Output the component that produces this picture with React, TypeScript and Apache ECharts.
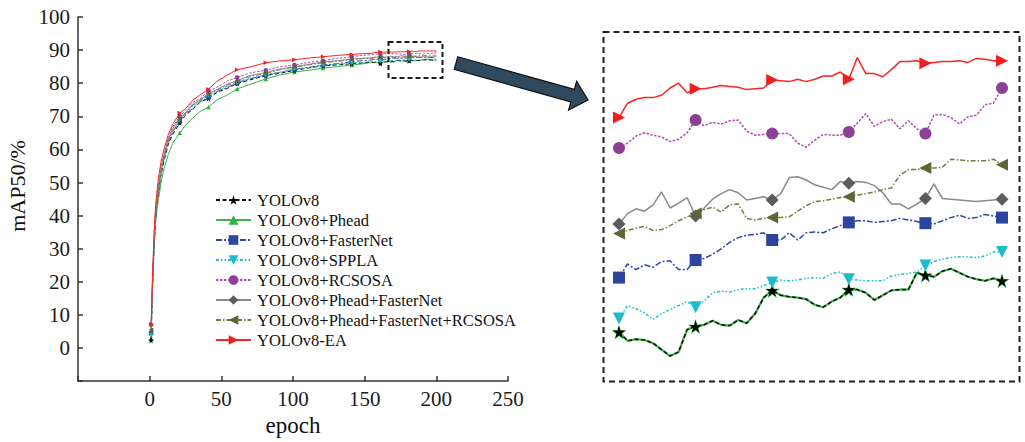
import React, { useEffect, useRef } from "react";
import * as echarts from "echarts";

const seriesNames = [
  "YOLOv8",
  "YOLOv8+Phead",
  "YOLOv8+FasterNet",
  "YOLOv8+SPPLA",
  "YOLOv8+RCSOSA",
  "YOLOv8+Phead+FasterNet",
  "YOLOv8+Phead+FasterNet+RCSOSA",
  "YOLOv8-EA",
];

const xTicks = [-50, 0, 50, 100, 150, 200, 250];
const yTicks = [-10, 0, 10, 20, 30, 40, 50, 60, 70, 80, 90, 100];

// epochs of the early, coarsely read part of the curves
const earlyEpochs = [1, 2, 3, 4, 5, 6, 8, 10, 13, 16, 21, 25, 30, 35, 41, 47, 54, 61, 70, 81, 90, 101, 111, 121, 131, 141, 148];
// epochs shown in the magnified panel
const tailEpochs = [155, 156, 157, 158, 159, 160, 161, 162, 163, 164, 165, 166, 167, 168, 169, 170, 171, 172, 173, 174, 175, 176, 177, 178, 179, 180, 181, 182, 183, 184, 185, 186, 187, 188, 189, 190, 191, 192, 193, 194, 195, 196, 197, 198, 199, 200];
const markerEpochs = [1, 21, 41, 61, 81, 101, 121, 141, 161, 181];

const yolov8Early = [2.3, 19, 30, 38.5, 43.5, 46.5, 52.5, 56.5, 61.5, 64.5, 68, 70.3, 72.1, 74.2, 75.4, 77.2, 78.4, 79.9, 81.0, 82.3, 82.9, 83.9, 84.6, 85.3, 85.5, 85.9, 86.1];
const pheadEarly = [3, 18, 29, 37, 41.5, 44.5, 50, 54.2, 58.5, 61.8, 65, 67.3, 69.4, 71.4, 72.8, 75, 76.4, 78.3, 79.6, 81.3, 82.4, 83.4, 83.9, 84.6, 85.0, 85.5, 85.8];
const fasterEarly = [4.5, 19.5, 30.5, 39, 44, 47.2, 53, 57.2, 62, 65.3, 68.5, 70.7, 72.4, 74.3, 75.7, 77.5, 78.7, 80.1, 81.3, 82.6, 83.2, 84.2, 84.8, 85.5, 85.9, 86.5, 86.8];
const spplaEarly = [4, 19.5, 31, 39.5, 44.5, 47.6, 53.5, 57.4, 62.6, 65.4, 69.2, 70.8, 73.1, 74.4, 76.3, 77.5, 79.1, 80.2, 81.6, 82.4, 83.3, 84.2, 84.7, 85.4, 85.7, 86.1, 86.3];
const rcsosaEarly = [7, 21, 33, 41, 46, 49.3, 55, 59.2, 63.5, 66.8, 70, 71.8, 74.2, 75.3, 77.6, 78.8, 80.6, 81.7, 83.1, 83.9, 84.9, 85.5, 86.3, 86.8, 87.5, 88.0, 88.4];
const pheadFasterEarly = [5, 20, 31.5, 40, 45, 48.2, 54, 58.3, 63, 66.2, 69.6, 71.1, 73.6, 74.9, 76.9, 78.1, 79.7, 80.8, 82.3, 83.2, 84.2, 85.0, 85.7, 86.4, 86.8, 87.3, 87.5];
const pheadFasterRcsosaEarly = [5.5, 20, 31, 39.5, 44.5, 47.4, 53.6, 57.4, 62.6, 65.4, 69.1, 70.9, 73.4, 74.7, 76.6, 77.9, 79.4, 80.5, 82.1, 82.9, 84.0, 84.8, 85.5, 86.2, 86.6, 87.1, 87.4];
const eaEarly = [7.2, 22, 34, 42, 47, 51, 56.5, 60, 64.5, 67.5, 71, 72.3, 74.8, 76.4, 78.2, 80.6, 82.4, 84.1, 84.9, 86.2, 86.7, 87.1, 87.6, 88.0, 88.4, 88.7, 88.9];

const yolov8Tail = [86.35, 86.24, 86.26, 86.25, 86.21, 86.13, 86.05, 86.1, 86.38, 86.42, 86.44, 86.49, 86.44, 86.43, 86.5, 86.46, 86.58, 86.78, 86.87, 86.81, 86.79, 86.78, 86.76, 86.69, 86.66, 86.73, 86.78, 86.88, 86.88, 86.84, 86.75, 86.81, 86.87, 86.88, 86.88, 87.09, 87.06, 87.04, 87.11, 87.14, 87.09, 87.04, 87.01, 86.99, 87.02, 86.99];
const pheadTail = [86.35, 86.24, 86.26, 86.25, 86.21, 86.13, 86.05, 86.1, 86.38, 86.42, 86.44, 86.49, 86.44, 86.43, 86.5, 86.46, 86.58, 86.78, 86.87, 86.81, 86.79, 86.78, 86.76, 86.69, 86.66, 86.73, 86.78, 86.88, 86.88, 86.84, 86.75, 86.81, 86.87, 86.88, 86.88, 87.09, 87.06, 87.04, 87.11, 87.14, 87.09, 87.04, 87.01, 86.99, 87.02, 86.99];
const fasterTail = [87.03, 87.2, 87.13, 87.19, 87.16, 87.23, 87.24, 87.13, 87.13, 87.25, 87.27, 87.32, 87.39, 87.47, 87.53, 87.56, 87.57, 87.59, 87.5, 87.5, 87.59, 87.5, 87.59, 87.6, 87.59, 87.64, 87.68, 87.72, 87.74, 87.74, 87.72, 87.73, 87.74, 87.77, 87.75, 87.73, 87.71, 87.7, 87.74, 87.78, 87.81, 87.77, 87.78, 87.82, 87.8, 87.78];
const spplaTail = [86.52, 86.68, 86.64, 86.59, 86.51, 86.58, 86.63, 86.68, 86.73, 86.66, 86.74, 86.84, 86.86, 86.85, 86.88, 86.89, 86.89, 86.93, 86.97, 87.0, 86.99, 87.0, 87.02, 87.03, 87.02, 87.08, 87.1, 87.01, 87.0, 86.99, 86.99, 86.99, 87.05, 87.07, 87.08, 87.1, 87.18, 87.23, 87.26, 87.28, 87.29, 87.29, 87.28, 87.3, 87.35, 87.35];
const rcsosaTail = [88.65, 88.71, 88.8, 88.84, 88.81, 88.79, 88.73, 88.76, 88.84, 89.0, 88.93, 88.97, 88.95, 88.99, 89.0, 88.86, 88.81, 88.82, 88.83, 88.83, 88.83, 88.71, 88.66, 88.75, 88.82, 88.81, 88.81, 88.85, 88.96, 89.08, 88.92, 88.98, 89.01, 88.89, 88.99, 88.89, 88.83, 89.06, 89.07, 89.03, 88.95, 89.04, 89.06, 89.19, 89.21, 89.4];
const pheadFasterTail = [87.7, 87.83, 87.89, 87.86, 87.94, 88.1, 87.9, 87.96, 88.03, 87.8, 87.9, 88.01, 88.08, 88.13, 88.09, 88.0, 88.02, 88.04, 88.0, 88.08, 88.28, 88.29, 88.25, 88.19, 88.16, 88.13, 88.23, 88.21, 88.23, 88.22, 88.18, 88.09, 87.95, 87.95, 87.89, 87.95, 88.02, 88.2, 88.02, 88.01, 88.0, 87.99, 87.98, 87.99, 88.0, 88.01];
const pheadFasterRcsosaTail = [87.58, 87.62, 87.65, 87.67, 87.62, 87.63, 87.68, 87.74, 87.79, 87.83, 87.88, 87.91, 87.85, 87.94, 87.95, 87.77, 87.75, 87.77, 87.78, 87.78, 87.79, 87.86, 87.93, 87.98, 87.99, 88.01, 88.03, 88.04, 88.06, 88.08, 88.1, 88.13, 88.15, 88.31, 88.38, 88.38, 88.4, 88.4, 88.41, 88.51, 88.5, 88.49, 88.49, 88.49, 88.51, 88.44];
const eaTail = [89.03, 89.21, 89.26, 89.28, 89.28, 89.31, 89.4, 89.46, 89.34, 89.39, 89.39, 89.41, 89.43, 89.42, 89.41, 89.38, 89.39, 89.4, 89.5, 89.49, 89.48, 89.51, 89.48, 89.51, 89.55, 89.55, 89.6, 89.51, 89.78, 89.58, 89.58, 89.54, 89.63, 89.73, 89.73, 89.74, 89.71, 89.72, 89.73, 89.73, 89.74, 89.72, 89.77, 89.76, 89.74, 89.74];

const STAR = "path://M50,0 L61,35 L98,35 L68,57 L79,91 L50,70 L21,91 L32,57 L2,35 L39,35 Z";

const styles = [
  { early: yolov8Early, tail: yolov8Tail, line: "#111111", marker: "#000000", dash: [4, 2.5] as any, symbol: STAR, rotate: 0 },
  { early: pheadEarly, tail: pheadTail, line: "#3cb44b", marker: "#2fb23f", dash: "solid" as any, symbol: "triangle", rotate: 0 },
  { early: fasterEarly, tail: fasterTail, line: "#2e45a8", marker: "#2a44a0", dash: [6, 2, 2, 2] as any, symbol: "rect", rotate: 0 },
  { early: spplaEarly, tail: spplaTail, line: "#22bfcc", marker: "#1cbccb", dash: [3, 2, 1.5, 2, 1.5, 2] as any, symbol: "triangle", rotate: 180 },
  { early: rcsosaEarly, tail: rcsosaTail, line: "#b050b0", marker: "#8e3f96", dash: [2.5, 1.5] as any, symbol: "circle", rotate: 0 },
  { early: pheadFasterEarly, tail: pheadFasterTail, line: "#8a8a8a", marker: "#595d60", dash: "solid" as any, symbol: "diamond", rotate: 0 },
  { early: pheadFasterRcsosaEarly, tail: pheadFasterRcsosaTail, line: "#767c3c", marker: "#5d6736", dash: [5, 2, 1.5, 2] as any, symbol: "triangle", rotate: 90 },
  { early: eaEarly, tail: eaTail, line: "#ff2424", marker: "#f21c1c", dash: "solid" as any, symbol: "triangle", rotate: -90 },
];

const drawOrder = [1, 0, 2, 3, 4, 5, 6, 7];
const FONT = '"Liberation Serif", "Times New Roman", serif';

export default function App() {
  const ref = useRef<HTMLDivElement>(null);
  useEffect(() => {
    if (!ref.current) return;
    const chart = echarts.init(ref.current, null, { renderer: "svg" });

    const mainSeries: any[] = [];
    const insetSeries: any[] = [];
    drawOrder.forEach((k, order) => {
      const s = styles[k];
      const name = seriesNames[k];
      const allEpochs = earlyEpochs.concat(tailEpochs);
      const allVals = s.early.concat(s.tail);
      const data = allEpochs.map((e, i) => [e, allVals[i]]);
      mainSeries.push({
        type: "line",
        name,
        data,
        xAxisIndex: 0,
        yAxisIndex: 0,
        symbol: s.symbol,
        symbolRotate: s.rotate,
        symbolSize: (v: any) => (markerEpochs.indexOf(v[0]) >= 0 ? (k === 0 ? 6 : 4.5) : 0),
        showSymbol: true,
        lineStyle: { color: s.line, width: 1, type: s.dash },
        itemStyle: { color: s.marker },
        emphasis: { disabled: true },
        clip: false,
        z: 2 + order,
      });
      const isGreen = k === 1;
      insetSeries.push({
        type: "line",
        name: "inset " + name,
        data: tailEpochs.map((e, i) => [e, s.tail[i]]),
        xAxisIndex: 1,
        yAxisIndex: 1,
        symbol: isGreen ? STAR : s.symbol,
        symbolRotate: s.rotate,
        symbolSize: (_v: any, p: any) =>
          p.dataIndex % 9 === 0 ? (isGreen ? 15 : k === 0 ? 12 : s.symbol === "diamond" ? 13 : 12) : 0,
        showSymbol: true,
        lineStyle: { color: s.line, width: isGreen ? 2.2 : 1.5, type: s.dash },
        itemStyle: { color: s.marker },
        emphasis: { disabled: true },
        clip: false,
        z: 2 + order,
      });
    });

    // arrow geometry
    const P = [588, 100];
    const T = [456, 63];
    const dx = P[0] - T[0];
    const dy = P[1] - T[1];
    const L = Math.sqrt(dx * dx + dy * dy);
    const u = [dx / L, dy / L];
    const n = [-u[1], u[0]];
    const B = [P[0] - 16 * u[0], P[1] - 16 * u[1]];
    const pt = (base: number[], w: number) => [base[0] + w * n[0], base[1] + w * n[1]];
    const arrowPts = [pt(T, -6.5), pt(B, -6.5), pt(B, -15), P, pt(B, 15), pt(B, 6.5), pt(T, 6.5)];

    chart.setOption({
      animation: false,
      backgroundColor: "#ffffff",
      textStyle: { fontFamily: FONT },
      grid: [
        { left: 78, top: 17, width: 430, height: 371 },
        { left: 619, top: 40, width: 383, height: 336 },
      ],
      xAxis: [
        {
          type: "value",
          gridIndex: 0,
          min: xTicks[0],
          max: xTicks[xTicks.length - 1],
          interval: 50,
          name: "epoch",
          nameLocation: "middle",
          nameGap: 30,
          nameTextStyle: { fontFamily: FONT, fontSize: 23, color: "#111" },
          axisLine: { show: true, onZero: false, lineStyle: { color: "#333", width: 1.5 } },
          axisTick: { show: true, inside: true, length: 5, lineStyle: { color: "#333", width: 1.5 } },
          axisLabel: {
            fontFamily: FONT,
            fontSize: 21,
            color: "#1a1a1a",
            margin: 7,
            formatter: (v: number) => (v < 0 ? "" : String(v)),
          },
          splitLine: { show: false },
        },
        { type: "value", gridIndex: 1, min: 155, max: 200, show: false },
      ],
      yAxis: [
        {
          type: "value",
          gridIndex: 0,
          min: yTicks[0],
          max: yTicks[yTicks.length - 1],
          interval: 10,
          axisLine: { show: true, onZero: false, lineStyle: { color: "#333", width: 1.5 } },
          axisTick: { show: true, inside: true, length: 5, lineStyle: { color: "#333", width: 1.5 } },
          axisLabel: {
            fontFamily: FONT,
            fontSize: 21,
            color: "#1a1a1a",
            margin: 8,
            formatter: (v: number) => (v < 0 ? "" : String(v)),
          },
          splitLine: { show: false },
        },
        { type: "value", gridIndex: 1, min: 85.8, max: 90.0, show: false },
      ],
      legend: {
        data: seriesNames,
        orient: "vertical",
        left: 215,
        top: 190,
        padding: 0,
        itemGap: 0,
        itemWidth: 35,
        itemHeight: 12,
        selectedMode: false,
        textStyle: { fontFamily: FONT, fontSize: 16.5, color: "#111", lineHeight: 20, padding: [0, 0, 0, 1] },
      },
      graphic: [
        {
          type: "text",
          x: 17,
          y: 186,
          rotation: Math.PI / 2,
          style: { text: "mAP50/%", fontFamily: FONT, fontSize: 22, fill: "#111", align: "center", verticalAlign: "middle" },
        },
        {
          type: "rect",
          shape: { x: 388.5, y: 42, width: 54, height: 36 },
          style: { fill: "none", stroke: "#1a1a1a", lineWidth: 2, lineDash: [5, 3] },
          z: 10,
        },
        {
          type: "rect",
          shape: { x: 603.5, y: 32, width: 416, height: 349.5 },
          style: { fill: "none", stroke: "#1a2027", lineWidth: 2, lineDash: [6, 4] },
          z: 10,
        },
        {
          type: "polygon",
          shape: { points: arrowPts },
          style: { fill: "#2f4a5e", stroke: "#111", lineWidth: 1.2 },
          z: 10,
        },
      ],
      series: mainSeries.concat(insetSeries),
    });

    return () => chart.dispose();
  }, []);

  return <div ref={ref} style={{ position: "fixed", left: 0, top: 0, width: 1025, height: 442 }} />;
}
